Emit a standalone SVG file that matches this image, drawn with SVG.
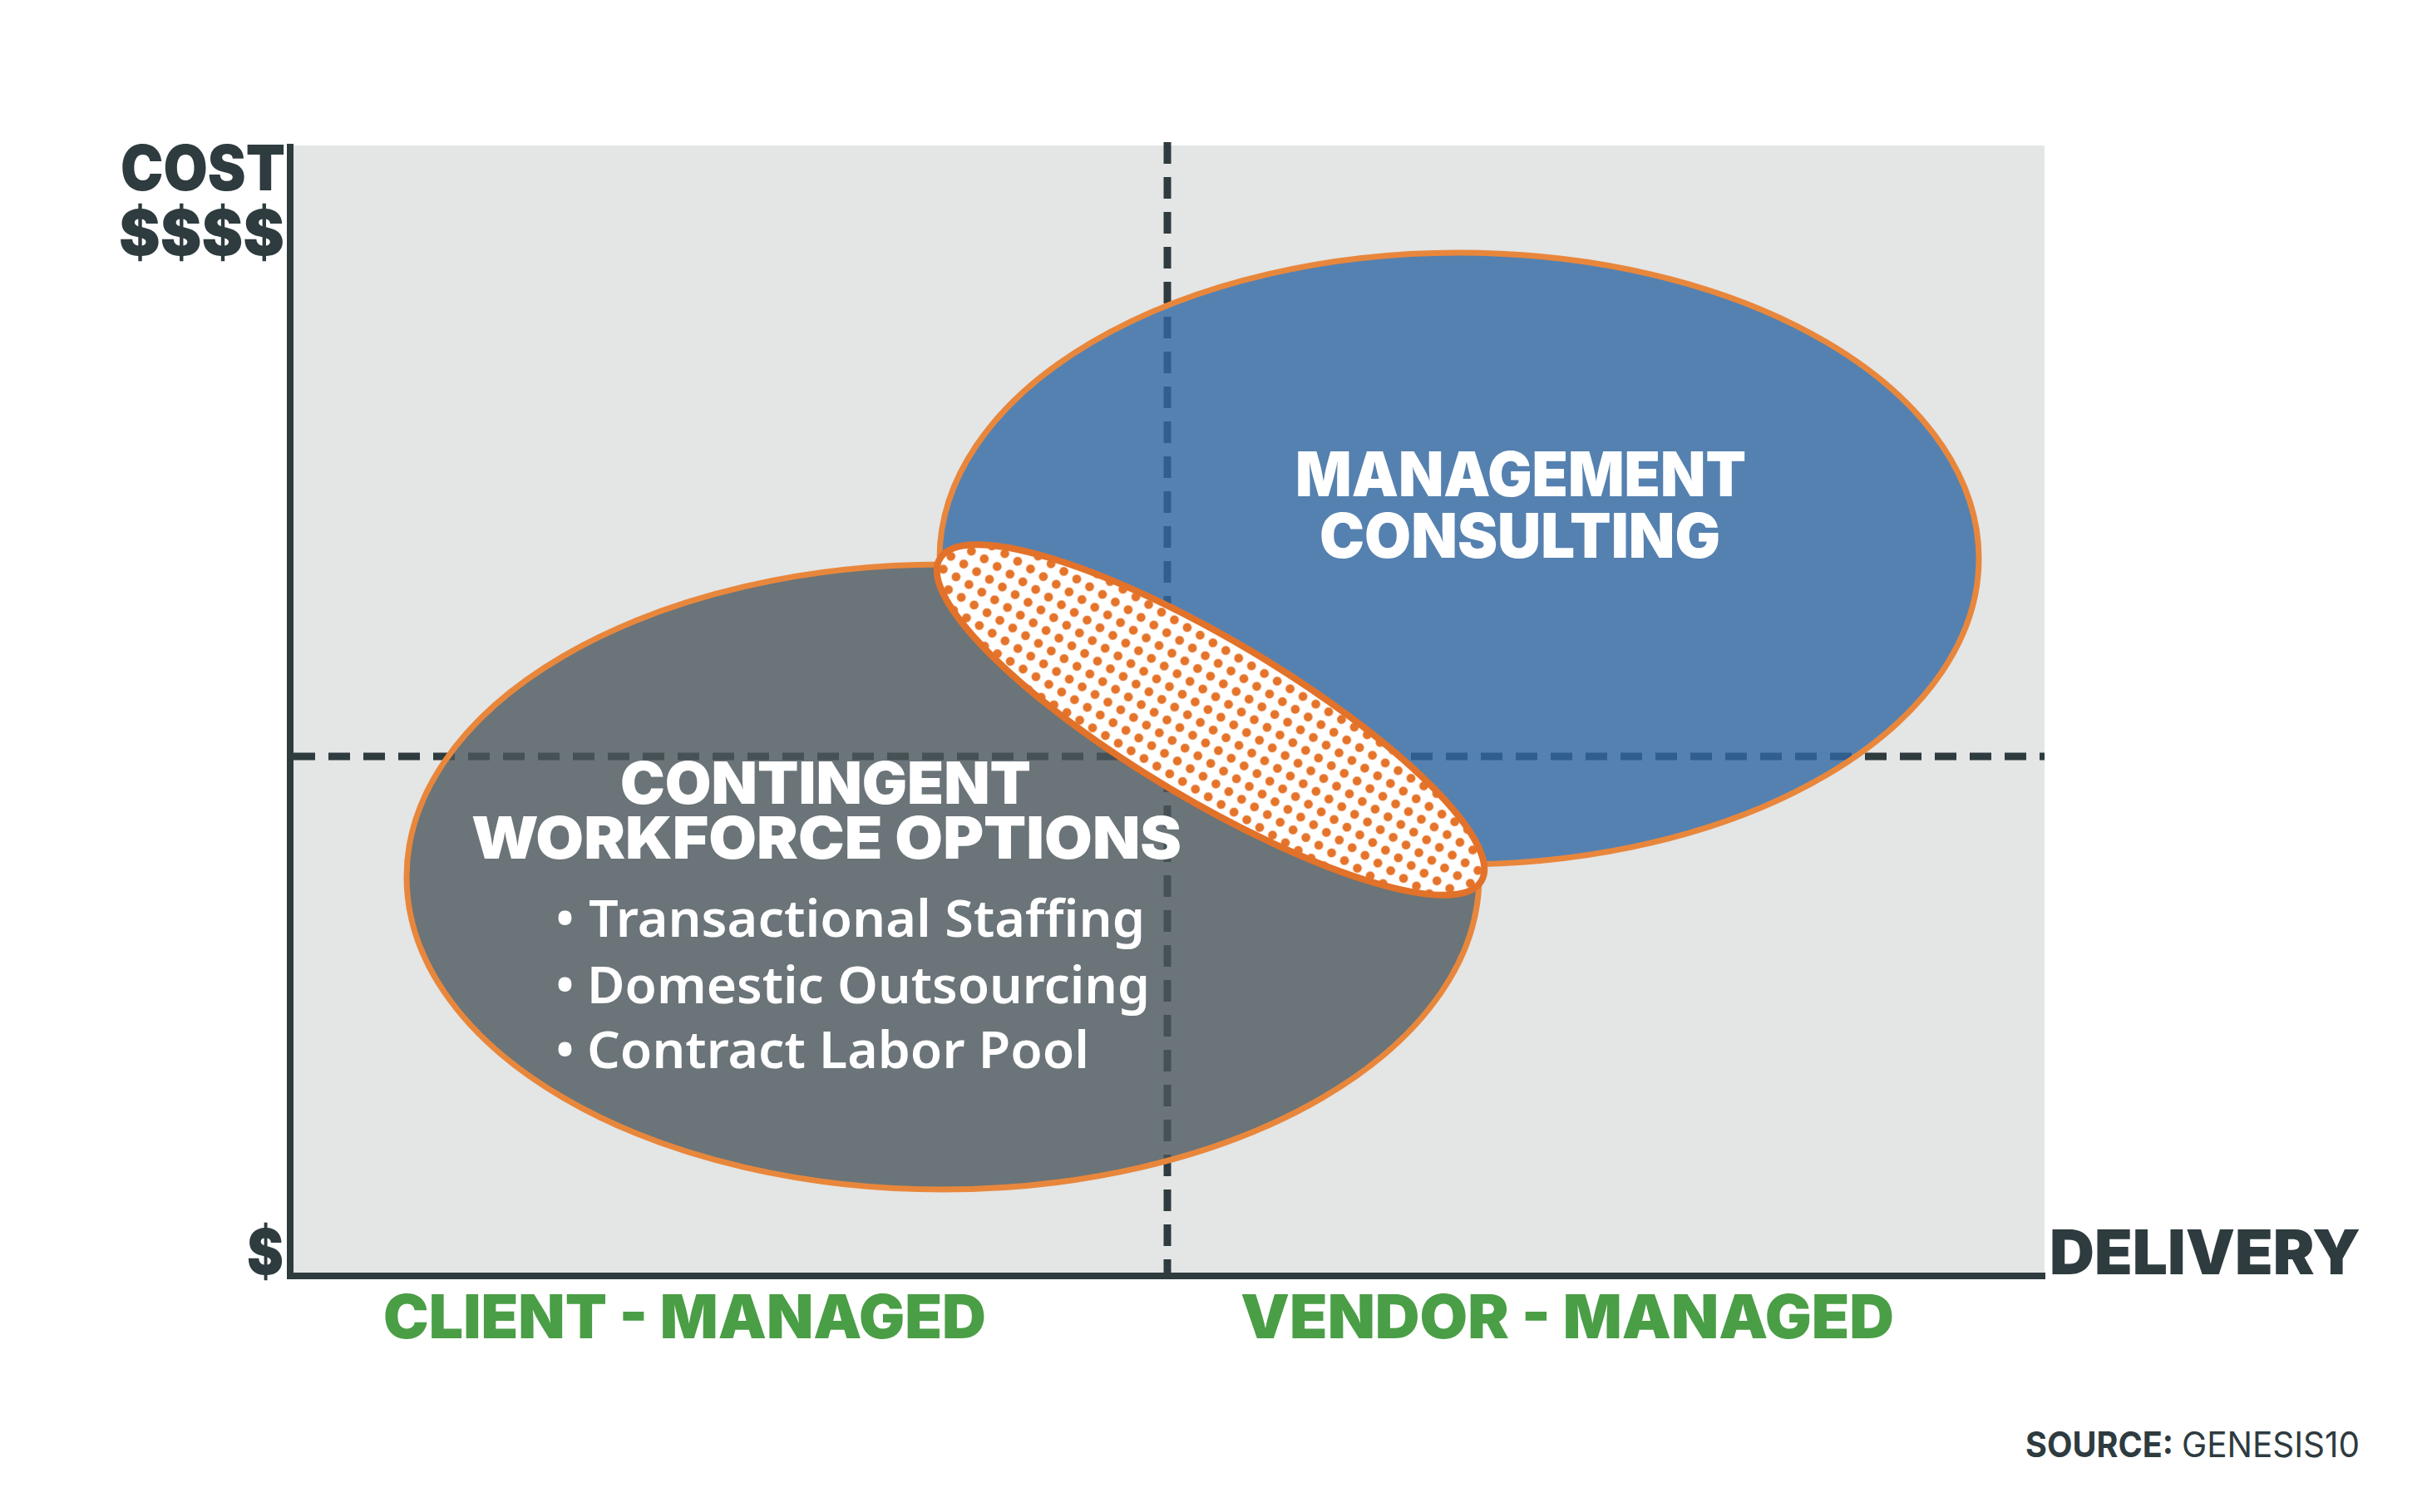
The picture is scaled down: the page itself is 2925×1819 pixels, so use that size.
<svg xmlns="http://www.w3.org/2000/svg" width="2925" height="1819" viewBox="0 0 2925 1819">
<style>
.heavy{font-family:Inter,"Open Sans","Liberation Sans",sans-serif;font-weight:900;}
.dark{fill:#2E3B3F;}
.green{fill:#4A9E46;}
.white{fill:#FFFFFF;}
.item{font-family:"Noto Sans","Open Sans","Liberation Sans",sans-serif;font-weight:600;font-size:61px;fill:#FFFFFF;}
.dash{stroke:#2E3B3F;stroke-width:9;stroke-dasharray:26 16;fill:none;}
.axis{stroke:#2E3B3F;stroke-width:8;fill:none;}
.ring{stroke:#E8873C;stroke-width:7;fill-opacity:0.8;}
</style>
<defs>
<pattern id="dots" patternUnits="userSpaceOnUse" width="18" height="18">
<rect width="18" height="18" fill="#FFFFFF"/>
<circle cx="9" cy="9" r="5.4" fill="#E5742A"/>
</pattern>
<clipPath id="above" clipPathUnits="userSpaceOnUse">
<polygon points="0,-20 2925,-20 2925,1741.5 0,-2"/>
</clipPath>
<clipPath id="below" clipPathUnits="userSpaceOnUse">
<polygon points="0,-2 2925,1741.5 2925,1819 0,1819"/>
</clipPath>
</defs>
<rect x="0" y="0" width="2925" height="1819" fill="#FFFFFF"/>
<rect id="plot-area" x="353" y="175" width="2106" height="1356" fill="#E4E5E5"/>
<g id="connectors">
<line class="dash" x1="1404" y1="171" x2="1404" y2="1531"/>
<line class="dash" x1="353" y1="910" x2="2459" y2="910"/>
<line class="axis" x1="349" y1="173" x2="349" y2="1539"/>
<line class="axis" x1="345" y1="1535" x2="2460" y2="1535"/>
</g>
<g id="management-consulting">
<ellipse class="ring" cx="1755" cy="672" rx="625" ry="368" fill="#3168A2" clip-path="url(#above)"/>
<text class="heavy white" x="1558" y="597" font-size="74" textLength="542" lengthAdjust="spacingAndGlyphs">MANAGEMENT</text>
<text class="heavy white" x="1587" y="671" font-size="74" textLength="482" lengthAdjust="spacingAndGlyphs">CONSULTING</text>
</g>
<g id="contingent-workforce">
<ellipse class="ring" cx="1134" cy="1055" rx="645" ry="376" fill="#4C585D" clip-path="url(#below)"/>
</g>
<g id="overlap">
<ellipse cx="0" cy="0" rx="379" ry="96" transform="translate(1456 866) rotate(30.8)" fill="url(#dots)" stroke="#E2722A" stroke-width="8"/>
</g>
<g id="contingent-labels">
<text class="heavy white" x="746" y="967" font-size="70" textLength="494" lengthAdjust="spacingAndGlyphs">CONTINGENT</text>
<text class="heavy white" x="567" y="1033" font-size="70" textLength="854" lengthAdjust="spacingAndGlyphs">WORKFORCE OPTIONS</text>
<text class="item" y="1127"><tspan x="668">•</tspan><tspan x="708" textLength="669" lengthAdjust="spacingAndGlyphs">Transactional Staffing</tspan></text>
<text class="item" y="1207"><tspan x="668">•</tspan><tspan x="706" textLength="677" lengthAdjust="spacingAndGlyphs">Domestic Outsourcing</tspan></text>
<text class="item" y="1285"><tspan x="668">•</tspan><tspan x="706" textLength="604" lengthAdjust="spacingAndGlyphs">Contract Labor Pool</tspan></text>
</g>
<g id="axis-labels">
<text class="heavy dark" x="145" y="229" font-size="75" textLength="198" lengthAdjust="spacingAndGlyphs">COST</text>
<text class="heavy dark" x="143" y="307" font-size="75" textLength="199" lengthAdjust="spacingAndGlyphs">$$$$</text>
<text class="heavy dark" x="297" y="1533" font-size="75" textLength="44" lengthAdjust="spacingAndGlyphs">$</text>
<text class="heavy dark" x="2465" y="1533" font-size="74" textLength="374" lengthAdjust="spacingAndGlyphs">DELIVERY</text>
<text class="heavy green" x="461" y="1610" font-size="73" textLength="725" lengthAdjust="spacingAndGlyphs">CLIENT - MANAGED</text>
<text class="heavy green" x="1492" y="1610" font-size="73" textLength="786" lengthAdjust="spacingAndGlyphs">VENDOR - MANAGED</text>
</g>
<g id="source">
<text x="2436" y="1753" font-family="Inter,'Open Sans','Liberation Sans',sans-serif" font-size="42" fill="#2E3B3F"><tspan font-weight="700" textLength="178" lengthAdjust="spacingAndGlyphs">SOURCE:</tspan><tspan x="2624" font-weight="400" textLength="214" lengthAdjust="spacingAndGlyphs">GENESIS10</tspan></text>
</g>
</svg>
